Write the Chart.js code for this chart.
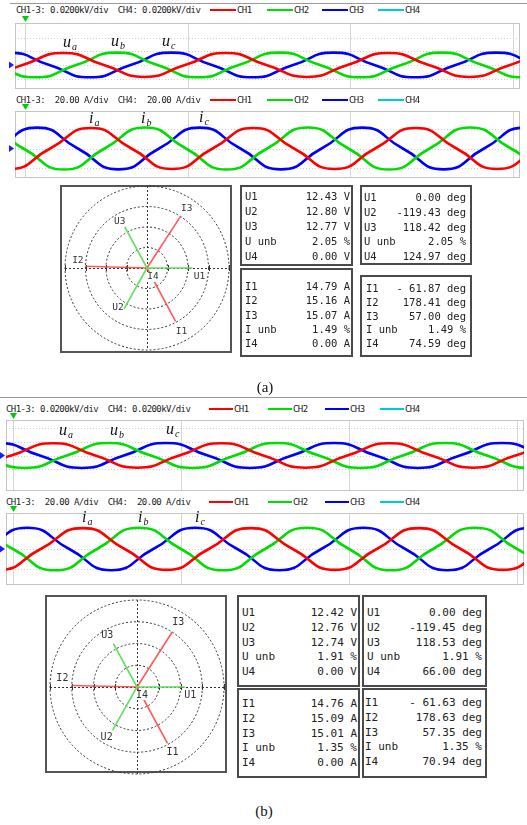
<!DOCTYPE html>
<html><head><meta charset="utf-8">
<script src="https://cdn.jsdelivr.net/npm/chart.js@4.4.0/dist/chart.umd.min.js"></script>
<style>
body{margin:0;background:#fff;width:527px;height:825px;position:relative;overflow:hidden}
canvas{position:absolute}
.hdr{position:absolute;font:9px 'DejaVu Sans Mono',monospace;color:#222;white-space:pre;line-height:10px}
.leg{position:absolute;height:2px}
.tbl{position:absolute;border:2px solid #4a4a4a;box-sizing:border-box;background:#fff}
.row{position:absolute;font-family:'DejaVu Sans Mono',monospace;color:#222;white-space:pre;line-height:12px}
.wl{position:absolute;font:italic 16px 'Liberation Serif',serif;color:#111;white-space:nowrap;line-height:16px}
.wl span{font-size:10px;position:relative;top:3px;margin-left:1px}
.cap{position:absolute;font:15px 'Liberation Serif',serif;color:#111;width:60px;text-align:center;line-height:16px}
.hl{position:absolute;height:1px;background:#9a9a9a}
.pbox{position:absolute;border:2px solid #555;box-sizing:border-box;background:#fff}
</style></head><body>
<script>
// ---------- DATA ----------
const channelLabels = ['CH1', 'CH2', 'CH3', 'CH4'];
const voltHeader = 'CH1-3: 0.0200kV/div  CH4: 0.0200kV/div';
const currHeader = 'CH1-3:  20.00 A/div  CH4:  20.00 A/div';
const voltSubs = ['a', 'b', 'c'];
const currSubs = ['a', 'b', 'c'];
const timeGridMs = [0, 20, 40, 60];
const voltGridV = [-20, 0, 20, 40];
const currGridA = [-20, 0, 20];

// waveform key points: [time ms, value] at zero crossings, peaks, troughs
// panel (a) voltages (V)
const uaA = [[-10.3,0],[-5.3,-17.6],[-0.3,0],[4.7,17.6],[9.7,0],[14.7,-17.6],[19.7,0],[24.7,17.6],[29.7,0],[34.7,-17.6],[39.7,0],[44.7,17.6],[49.7,0],[54.7,-17.6],[59.7,0],[64.7,17.6],[69.7,0]];
const ubA = [[-8.7,18.1],[-3.7,0],[1.3,-18.1],[6.3,0],[11.3,18.1],[16.3,0],[21.3,-18.1],[26.3,0],[31.3,18.1],[36.3,0],[41.3,-18.1],[46.3,0],[51.3,18.1],[56.3,0],[61.3,-18.1],[66.3,0],[71.3,18.1]];
const ucA = [[-12,-18.1],[-7,0],[-2,18.1],[3,0],[8,-18.1],[13,0],[18,18.1],[23,0],[28,-18.1],[33,0],[38,18.1],[43,0],[48,-18.1],[53,0],[58,18.1],[63,0],[68,-18.1]];
// panel (a) currents (A)
const iaA = [[-11.9,20.9],[-6.9,0],[-1.9,-20.9],[3.1,0],[8.1,20.9],[13.1,0],[18.1,-20.9],[23.1,0],[28.1,20.9],[33.1,0],[38.1,-20.9],[43.1,0],[48.1,20.9],[53.1,0],[58.1,-20.9],[63.1,0],[68.1,20.9]];
const ibA = [[-10.2,0],[-5.2,21.4],[-0.2,0],[4.8,-21.4],[9.8,0],[14.8,21.4],[19.8,0],[24.8,-21.4],[29.8,0],[34.8,21.4],[39.8,0],[44.8,-21.4],[49.8,0],[54.8,21.4],[59.8,0],[64.8,-21.4],[69.8,0]];
const icA = [[-13.5,0],[-8.5,-21.3],[-3.5,0],[1.5,21.3],[6.5,0],[11.5,-21.3],[16.5,0],[21.5,21.3],[26.5,0],[31.5,-21.3],[36.5,0],[41.5,21.3],[46.5,0],[51.5,-21.3],[56.5,0],[61.5,21.3],[66.5,0]];
// panel (b) voltages (V)
const uaB = [[-10.2,0],[-5.2,-17.6],[-0.2,0],[4.8,17.6],[9.8,0],[14.8,-17.6],[19.8,0],[24.8,17.6],[29.8,0],[34.8,-17.6],[39.8,0],[44.8,17.6],[49.8,0],[54.8,-17.6],[59.8,0],[64.8,17.6],[69.8,0]];
const ubB = [[-8.6,18.0],[-3.6,0],[1.4,-18.0],[6.4,0],[11.4,18.0],[16.4,0],[21.4,-18.0],[26.4,0],[31.4,18.0],[36.4,0],[41.4,-18.0],[46.4,0],[51.4,18.0],[56.4,0],[61.4,-18.0],[66.4,0],[71.4,18.0]];
const ucB = [[-11.8,-18.0],[-6.8,0],[-1.8,18.0],[3.2,0],[8.2,-18.0],[13.2,0],[18.2,18.0],[23.2,0],[28.2,-18.0],[33.2,0],[38.2,18.0],[43.2,0],[48.2,-18.0],[53.2,0],[58.2,18.0],[63.2,0],[68.2,-18.0]];
// panel (b) currents (A)
const iaB = [[-11.7,20.9],[-6.7,0],[-1.7,-20.9],[3.3,0],[8.3,20.9],[13.3,0],[18.3,-20.9],[23.3,0],[28.3,20.9],[33.3,0],[38.3,-20.9],[43.3,0],[48.3,20.9],[53.3,0],[58.3,-20.9],[63.3,0],[68.3,20.9]];
const ibB = [[-10,0],[-5,21.3],[0,0],[5,-21.3],[10,0],[15,21.3],[20,0],[25,-21.3],[30,0],[35,21.3],[40,0],[45,-21.3],[50,0],[55,21.3],[60,0],[65,-21.3],[70,0]];
const icB = [[-13.3,0],[-8.3,-21.2],[-3.3,0],[1.7,21.2],[6.7,0],[11.7,-21.2],[16.7,0],[21.7,21.2],[26.7,0],[31.7,-21.2],[36.7,0],[41.7,21.2],[46.7,0],[51.7,-21.2],[56.7,0],[61.7,21.2],[66.7,0]];

// phasor / table values
const uNames = ['U1', 'U2', 'U3', 'U unb', 'U4'];
const iNames = ['I1', 'I2', 'I3', 'I unb', 'I4'];
const phNamesU = ['U1', 'U2', 'U3'];
const phNamesI = ['I1', 'I2', 'I3'];
// (a)
const uRmsA = [12.43, 12.80, 12.77]; const uUnbA = 2.05; const u4A = 0.00;
const uAngA = [0.00, -119.43, 118.42]; const u4AngA = 124.97;
const iRmsA = [14.79, 15.16, 15.07]; const iUnbA = 1.49; const i4A = 0.00;
const iAngA = [-61.87, 178.41, 57.00]; const i4AngA = 74.59;
// (b)
const uRmsB = [12.42, 12.76, 12.74]; const uUnbB = 1.91; const u4B = 0.00;
const uAngB = [0.00, -119.45, 118.53]; const u4AngB = 66.00;
const iRmsB = [14.76, 15.09, 15.01]; const iUnbB = 1.35; const i4B = 0.00;
const iAngB = [-61.63, 178.63, 57.35]; const i4AngB = 70.94;

const captions = ['(a)', '(b)'];

// ---------- STYLE / LAYOUT ----------
const waveColors = ['#ff0000', '#00dd00', '#0000ff'];
const legendColors = ['#ff0000', '#00dd00', '#0000ff', '#00cccc'];
const voltPerRing = 5.6, ampPerRing = 5.0;
const hdrFont = "9px 'DejaVu Sans Mono'";
const hdrCharW = 4.85;
const mctx = document.createElement('canvas').getContext('2d');

function el(cls, css, text) {
  const d = document.createElement('div');
  d.className = cls;
  Object.assign(d.style, css);
  if (text !== undefined) d.textContent = text;
  document.body.appendChild(d);
  return d;
}
function fit(d, text) {
  mctx.font = hdrFont;
  const w = mctx.measureText(text).width;
  d.style.letterSpacing = ((hdrCharW * text.length - w) / text.length) + 'px';
}
function hline(x1, x2, y) { el('hl', {left: x1 + 'px', top: y + 'px', width: (x2 - x1) + 'px'}); }

function header(x, yc, text, legX, legW) {
  fit(el('hdr', {left: x + 'px', top: (yc - 5) + 'px'}, text), text);
  channelLabels.forEach((lab, i) => {
    el('leg', {left: legX[i] + 'px', top: (yc - 1) + 'px', width: legW + 'px', background: legendColors[i]});
    fit(el('hdr', {left: (legX[i] + legW + 1) + 'px', top: (yc - 5) + 'px'}, lab), lab);
  });
}

function wavePlugin(gridY) {
  return {
    id: 'wgrid',
    beforeDatasetsDraw(chart) {
      const {ctx, chartArea: a, scales: {x, y}} = chart;
      ctx.save();
      ctx.lineWidth = 1;
      ctx.strokeStyle = '#cfcfcf';
      ctx.setLineDash([1, 2]);
      gridY.forEach(v => {
        const py = Math.round(y.getPixelForValue(v)) + 0.5;
        if (py > a.top + 1 && py < a.bottom - 1) {
          ctx.beginPath(); ctx.moveTo(a.left, py); ctx.lineTo(a.right, py); ctx.stroke();
        }
      });
      ctx.setLineDash([]);
      ctx.strokeStyle = '#d8d8d8';
      timeGridMs.forEach(v => {
        const px = Math.round(x.getPixelForValue(v)) + 0.5;
        if (px > a.left + 1 && px < a.right - 1) {
          ctx.beginPath(); ctx.moveTo(px, a.top); ctx.lineTo(px, a.bottom); ctx.stroke();
        }
      });
      ctx.strokeStyle = '#c4c4c4';
      ctx.strokeRect(a.left + 0.5, a.top + 0.5, a.right - a.left - 1, a.bottom - a.top - 1);
      ctx.restore();
    },
    afterDraw(chart) {
      const {ctx, chartArea: a, scales: {x, y}} = chart;
      ctx.save();
      ctx.fillStyle = '#00cc00';
      const px0 = Math.round(x.getPixelForValue(0)) + 0.5;
      ctx.beginPath(); ctx.moveTo(px0 - 3.5, a.top - 7); ctx.lineTo(px0 + 3.5, a.top - 7); ctx.lineTo(px0, a.top - 1); ctx.closePath(); ctx.fill();
      ctx.fillStyle = '#1a1aff';
      const py0 = y.getPixelForValue(0);
      ctx.beginPath(); ctx.moveTo(a.left - 6, py0 - 3.5); ctx.lineTo(a.left - 6, py0 + 3.5); ctx.lineTo(a.left - 1, py0); ctx.closePath(); ctx.fill();
      ctx.restore();
    }
  };
}

function waveChart(box, xr, yr, series, gridY, padL) {
  const [l, t, r, b] = box;
  const pad = {left: padL, top: 8, right: 2, bottom: 2};
  const W = r - l + pad.left + pad.right, H = b - t + pad.top + pad.bottom;
  const c = document.createElement('canvas');
  c.width = W; c.height = H;
  Object.assign(c.style, {left: (l - pad.left) + 'px', top: (t - pad.top) + 'px', width: W + 'px', height: H + 'px'});
  document.body.appendChild(c);
  new Chart(c, {
    type: 'scatter',
    data: {datasets: series.map((s, i) => ({
      data: s.map(p => ({x: p[0], y: p[1]})),
      showLine: true, borderColor: waveColors[i], borderWidth: 2.6,
      pointRadius: 0, tension: 0.55, clip: 0
    }))},
    options: {
      responsive: false, animation: false, devicePixelRatio: 1, events: [],
      layout: {padding: pad},
      elements: {line: {capBezierPoints: false}},
      plugins: {legend: {display: false}, tooltip: {enabled: false}},
      scales: {
        x: {type: 'linear', min: xr[0], max: xr[1], display: false},
        y: {type: 'linear', min: yr[0], max: yr[1], display: false}
      }
    },
    plugins: [wavePlugin(gridY)]
  });
}

function waveLabels(base, subs, pos) {
  subs.forEach((s, i) => {
    const d = el('wl', {left: pos[i][0] + 'px', top: (pos[i][1] - 13) + 'px'});
    d.textContent = base;
    const sp = document.createElement('span');
    sp.textContent = s;
    d.appendChild(sp);
  });
}

function polarChart(boxRect, cx, cy, half, pxRing, uRms, uAng, iRms, iAng, labOff, labFont) {
  el('pbox', {left: boxRect[0] + 'px', top: boxRect[1] + 'px', width: (boxRect[2] - boxRect[0]) + 'px', height: (boxRect[3] - boxRect[1]) + 'px'});
  const c = document.createElement('canvas');
  c.width = 2 * half; c.height = 2 * half;
  Object.assign(c.style, {left: (cx - half) + 'px', top: (cy - half) + 'px', width: 2 * half + 'px', height: 2 * half + 'px'});
  document.body.appendChild(c);
  const R = half / pxRing;
  const rad = d => d * Math.PI / 180;
  const ds = [];
  uRms.forEach((m, k) => ds.push({label: phNamesU[k], data: [{x: 0, y: 0}, {x: m / voltPerRing * Math.cos(rad(uAng[k])), y: m / voltPerRing * Math.sin(rad(uAng[k]))}], borderColor: '#5ee05e'}));
  iRms.forEach((m, k) => ds.push({label: phNamesI[k], data: [{x: 0, y: 0}, {x: m / ampPerRing * Math.cos(rad(iAng[k])), y: m / ampPerRing * Math.sin(rad(iAng[k]))}], borderColor: 'rgba(255,60,60,0.85)'}));
  ds.forEach(d => Object.assign(d, {showLine: true, borderWidth: 1.6, pointRadius: 0, tension: 0}));
  new Chart(c, {
    type: 'scatter',
    data: {datasets: ds},
    options: {
      responsive: false, animation: false, devicePixelRatio: 1, events: [],
      layout: {padding: 0},
      plugins: {legend: {display: false}, tooltip: {enabled: false}},
      scales: {x: {min: -R, max: R, display: false}, y: {min: -R, max: R, display: false}}
    },
    plugins: [{
      id: 'rings',
      beforeDatasetsDraw(chart) {
        const {ctx, scales: {x, y}} = chart;
        const ox = x.getPixelForValue(0), oy = y.getPixelForValue(0);
        const u = x.getPixelForValue(1) - ox;
        ctx.save();
        ctx.strokeStyle = '#333'; ctx.lineWidth = 1; ctx.setLineDash([2, 2]);
        [1, 2, 3, 4].forEach(k => { ctx.beginPath(); ctx.arc(ox, oy, k * u, 0, 2 * Math.PI); ctx.stroke(); });
        ctx.beginPath(); ctx.moveTo(ox - 4 * u, Math.round(oy) + 0.5); ctx.lineTo(ox + 4 * u, Math.round(oy) + 0.5); ctx.stroke();
        ctx.beginPath(); ctx.moveTo(Math.round(ox) + 0.5, oy - 4 * u); ctx.lineTo(Math.round(ox) + 0.5, oy + 4 * u); ctx.stroke();
        ctx.setLineDash([]);
        [-4, -3, -2, -1, 1, 2, 3, 4].forEach(k => {
          const px = Math.round(ox + k * u) + 0.5;
          ctx.beginPath(); ctx.moveTo(px, oy - 3); ctx.lineTo(px, oy + 3); ctx.stroke();
        });
        ctx.restore();
      },
      afterDatasetsDraw(chart) {
        const {ctx, scales: {x, y}} = chart;
        ctx.save();
        ctx.font = labFont + " 'DejaVu Sans Mono', monospace";
        ctx.textAlign = 'center'; ctx.textBaseline = 'middle';
        chart.data.datasets.forEach((d, k) => {
          const tip = d.data[1];
          const px = x.getPixelForValue(tip.x) + labOff[k][0];
          const py = y.getPixelForValue(tip.y) + labOff[k][1];
          ctx.fillStyle = '#333';
          ctx.fillText(d.label, px, py);
        });
        const ox = x.getPixelForValue(0) + labOff[6][0], oy = y.getPixelForValue(0) + labOff[6][1];
        ctx.fillStyle = '#fff';
        ctx.fillRect(ox - 6, oy - 5, 12, 10);
        ctx.fillStyle = '#333';
        ctx.fillText('I4', ox, oy);
        ctx.restore();
      }
    }]
  });
}

function fmtAng(a) { return a < 0 ? '-' + Math.abs(a).toFixed(2).padStart(6, ' ') : a.toFixed(2); }

function table(rect, names, values, firstRow, step, labX, valR, fs) {
  el('tbl', {left: rect[0] + 'px', top: rect[1] + 'px', width: (rect[2] - rect[0]) + 'px', height: (rect[3] - rect[1]) + 'px'});
  names.forEach((n, k) => {
    const yc = firstRow + k * step;
    el('row', {left: labX + 'px', top: (yc - 6) + 'px', fontSize: fs + 'px'}, n);
    el('row', {left: (valR - 120) + 'px', width: '120px', textAlign: 'right', top: (yc - 6) + 'px', fontSize: fs + 'px'}, values[k]);
  });
}

// ---------- PANEL (a) ----------
hline(10, 527, 3);
header(16, 10, voltHeader, [210, 267, 322, 378], 26);
waveChart([15, 23, 520, 89], [-1.23, 60.92], [-35.3, 61.7], [uaA, ubA, ucA], voltGridV, 10);
waveLabels('u', voltSubs, [[63, 47], [111, 46], [162, 46]]);
header(16, 100, currHeader, [210, 267, 322, 378], 26);
waveChart([15, 111, 520, 178], [-1.23, 60.92], [-30.1, 38.3], [iaA, ibA, icA], currGridA, 10);
waveLabels('i', currSubs, [[89, 123], [141, 123], [199, 122]]);
polarChart([60, 185, 232, 353], 147, 268, 84, 20.5, uRmsA, uAngA, iRmsA, iAngA,
  [[7, 9], [-6, -1], [-5, -5], [6, 10], [-7, -6], [6, -8], [6, 9]], '9.5px');
table([240, 185, 353, 266], uNames, [uRmsA[0].toFixed(2) + ' V', uRmsA[1].toFixed(2) + ' V', uRmsA[2].toFixed(2) + ' V', uUnbA.toFixed(2) + ' %', u4A.toFixed(2) + ' V'], 196, 15, 245, 350, 10.5);
table([360, 185, 472, 265], uNames, [fmtAng(uAngA[0]) + ' deg', fmtAng(uAngA[1]) + ' deg', fmtAng(uAngA[2]) + ' deg', uUnbA.toFixed(2) + ' %', fmtAng(u4AngA) + ' deg'], 197, 14.8, 364, 466, 10.5);
table([240, 268, 353, 357], iNames, [iRmsA[0].toFixed(2) + ' A', iRmsA[1].toFixed(2) + ' A', iRmsA[2].toFixed(2) + ' A', iUnbA.toFixed(2) + ' %', i4A.toFixed(2) + ' A'], 286, 14.25, 245, 350, 10.5);
table([360, 275, 472, 357], iNames, [fmtAng(iAngA[0]) + ' deg', fmtAng(iAngA[1]) + ' deg', fmtAng(iAngA[2]) + ' deg', iUnbA.toFixed(2) + ' %', fmtAng(i4AngA) + ' deg'], 288, 13.8, 366, 466, 10.5);
el('cap', {left: '235px', top: '379px'}, captions[0]);

// ---------- PANEL (b) ----------
hline(0, 527, 397);
header(6, 409, voltHeader, [209, 268, 325, 380], 24);
waveChart([6, 420, 524, 491], [-0.83, 60.83], [-51.2, 51.2], [uaB, ubB, ucB], voltGridV, 6);
waveLabels('u', voltSubs, [[59, 435], [110, 435], [166, 434]]);
header(6, 502, currHeader, [209, 268, 325, 380], 24);
waveChart([6, 513, 524, 585], [-0.83, 60.83], [-36, 36], [iaB, ibB, icB], currGridA, 6);
waveLabels('i', currSubs, [[82, 522], [138, 522], [195, 522]]);
polarChart([45, 595, 227, 773], 137, 687, 90, 21.75, uRmsB, uAngB, iRmsB, iAngB,
  [[5, 8], [-6, 7], [-6, -8], [5, 9], [-9, -7], [6, -10], [5, 8]], '10px');
table([237, 595, 360, 687], uNames, [uRmsB[0].toFixed(2) + ' V', uRmsB[1].toFixed(2) + ' V', uRmsB[2].toFixed(2) + ' V', uUnbB.toFixed(2) + ' %', u4B.toFixed(2) + ' V'], 613, 14.75, 242, 357, 11);
table([362, 595, 487, 687], uNames, [fmtAng(uAngB[0]) + ' deg', fmtAng(uAngB[1]) + ' deg', fmtAng(uAngB[2]) + ' deg', uUnbB.toFixed(2) + ' %', fmtAng(u4AngB) + ' deg'], 613, 14.75, 367, 482, 11);
table([237, 688, 360, 778], iNames, [iRmsB[0].toFixed(2) + ' A', iRmsB[1].toFixed(2) + ' A', iRmsB[2].toFixed(2) + ' A', iUnbB.toFixed(2) + ' %', i4B.toFixed(2) + ' A'], 704, 14.75, 242, 357, 11);
table([362, 688, 487, 778], iNames, [fmtAng(iAngB[0]) + ' deg', fmtAng(iAngB[1]) + ' deg', fmtAng(iAngB[2]) + ' deg', iUnbB.toFixed(2) + ' %', fmtAng(i4AngB) + ' deg'], 703, 14.75, 365, 482, 11);
el('cap', {left: '234px', top: '803px'}, captions[1]);
</script>
</body></html>
